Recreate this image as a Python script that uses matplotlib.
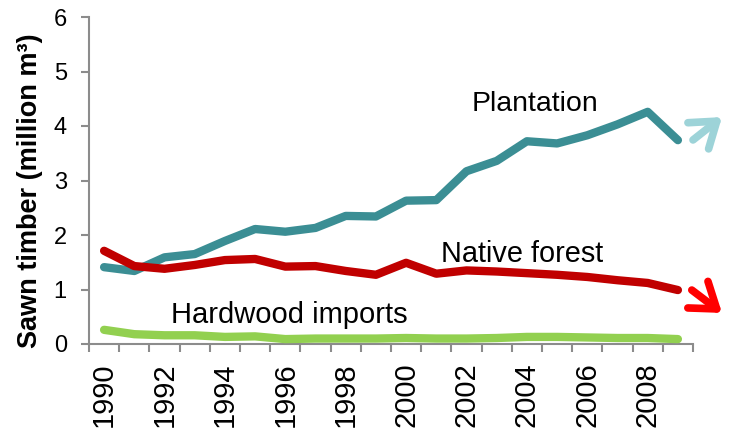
import matplotlib
matplotlib.use("Agg")
import matplotlib.pyplot as plt
import numpy as np

plt.rcParams['font.family'] = ['Liberation Sans', 'DejaVu Sans']

years = list(range(1990, 2010))
plantation = [1.41, 1.34, 1.59, 1.65, 1.89, 2.11, 2.06, 2.13, 2.35, 2.34,
              2.63, 2.64, 3.17, 3.36, 3.72, 3.68, 3.83, 4.03, 4.26, 3.74]
native_forest = [1.71, 1.43, 1.38, 1.45, 1.54, 1.56, 1.42, 1.43, 1.34, 1.27,
                 1.49, 1.29, 1.35, 1.33, 1.30, 1.27, 1.23, 1.17, 1.12, 0.99]
hardwood = [0.26, 0.18, 0.16, 0.16, 0.13, 0.14, 0.09, 0.10, 0.10, 0.10,
            0.11, 0.10, 0.10, 0.11, 0.13, 0.13, 0.12, 0.11, 0.11, 0.09]
year_labels = [str(y) for y in range(1990, 2010, 2)]
y_ticks = [0, 1, 2, 3, 4, 5, 6]

teal = '#3B8E94'
red = '#C00000'
green = '#92D050'

fig = plt.figure(figsize=(7.30, 4.28), dpi=100)
ax = fig.add_axes([89/730, 1-344/428, (693-89)/730, (344-17)/428])

lw = 6
ax.plot(years, plantation, color=teal, lw=lw, solid_capstyle='round', solid_joinstyle='round', zorder=3)
ax.plot(years, native_forest, color=red, lw=lw, solid_capstyle='round', solid_joinstyle='round', zorder=4)
ax.plot(years, hardwood, color=green, lw=lw, solid_capstyle='round', solid_joinstyle='round', zorder=5)

ax.set_xlim(years[0]-0.5, years[-1]+0.5)
ax.set_ylim(0, 6)
ax.set_yticks(y_ticks)
ax.set_yticklabels([str(v) for v in y_ticks])

ax.set_xticks(np.arange(years[0]-0.5, years[-1]+1.0, 1.0))
ax.set_xticklabels([])
ax.set_xticks([int(s) for s in year_labels], minor=True)
ax.set_xticklabels(year_labels, minor=True, rotation=90)
ax.tick_params(axis='x', which='minor', length=0, labelsize=21, pad=13)
ax.tick_params(axis='x', which='major', length=6, width=1.5, color='#8C8C8C')
ax.tick_params(axis='y', length=6, width=1.5, color='#8C8C8C', labelsize=17, pad=10)

for s in ['top', 'right']:
    ax.spines[s].set_visible(False)
for s in ['left', 'bottom']:
    ax.spines[s].set_color('#8C8C8C')
    ax.spines[s].set_linewidth(1.5)

ax.text(2004.27, 4.28, 'Plantation', fontsize=20.5, ha='center', va='baseline')
ax.text(2003.84, 1.50, 'Native forest', fontsize=20.8, ha='center', va='baseline')
ax.text(1996.13, 0.385, 'Hardwood imports', fontsize=21, ha='center', va='baseline')

fig.text(30/730, 1-191/428, 'Sawn timber (million m³)', rotation=90,
         ha='center', va='center', fontsize=19.5, fontweight='bold')

ax.annotate('', xy=(1.048, 0.694), xytext=(1.0, 0.624), xycoords='axes fraction',
            annotation_clip=False,
            arrowprops=dict(arrowstyle='->,head_length=0.85,head_width=0.6',
                            color='#9DD3D8', lw=5.5, mutation_scale=20,
                            capstyle='round', joinstyle='round',
                            shrinkA=0, shrinkB=0))
ax.annotate('', xy=(1.048, 0.095), xytext=(0.998, 0.165), xycoords='axes fraction',
            annotation_clip=False,
            arrowprops=dict(arrowstyle='->,head_length=0.85,head_width=0.6',
                            color='#FF0000', lw=5.5, mutation_scale=20,
                            capstyle='round', joinstyle='round',
                            shrinkA=0, shrinkB=0))

fig.savefig('out.png', dpi=100)
